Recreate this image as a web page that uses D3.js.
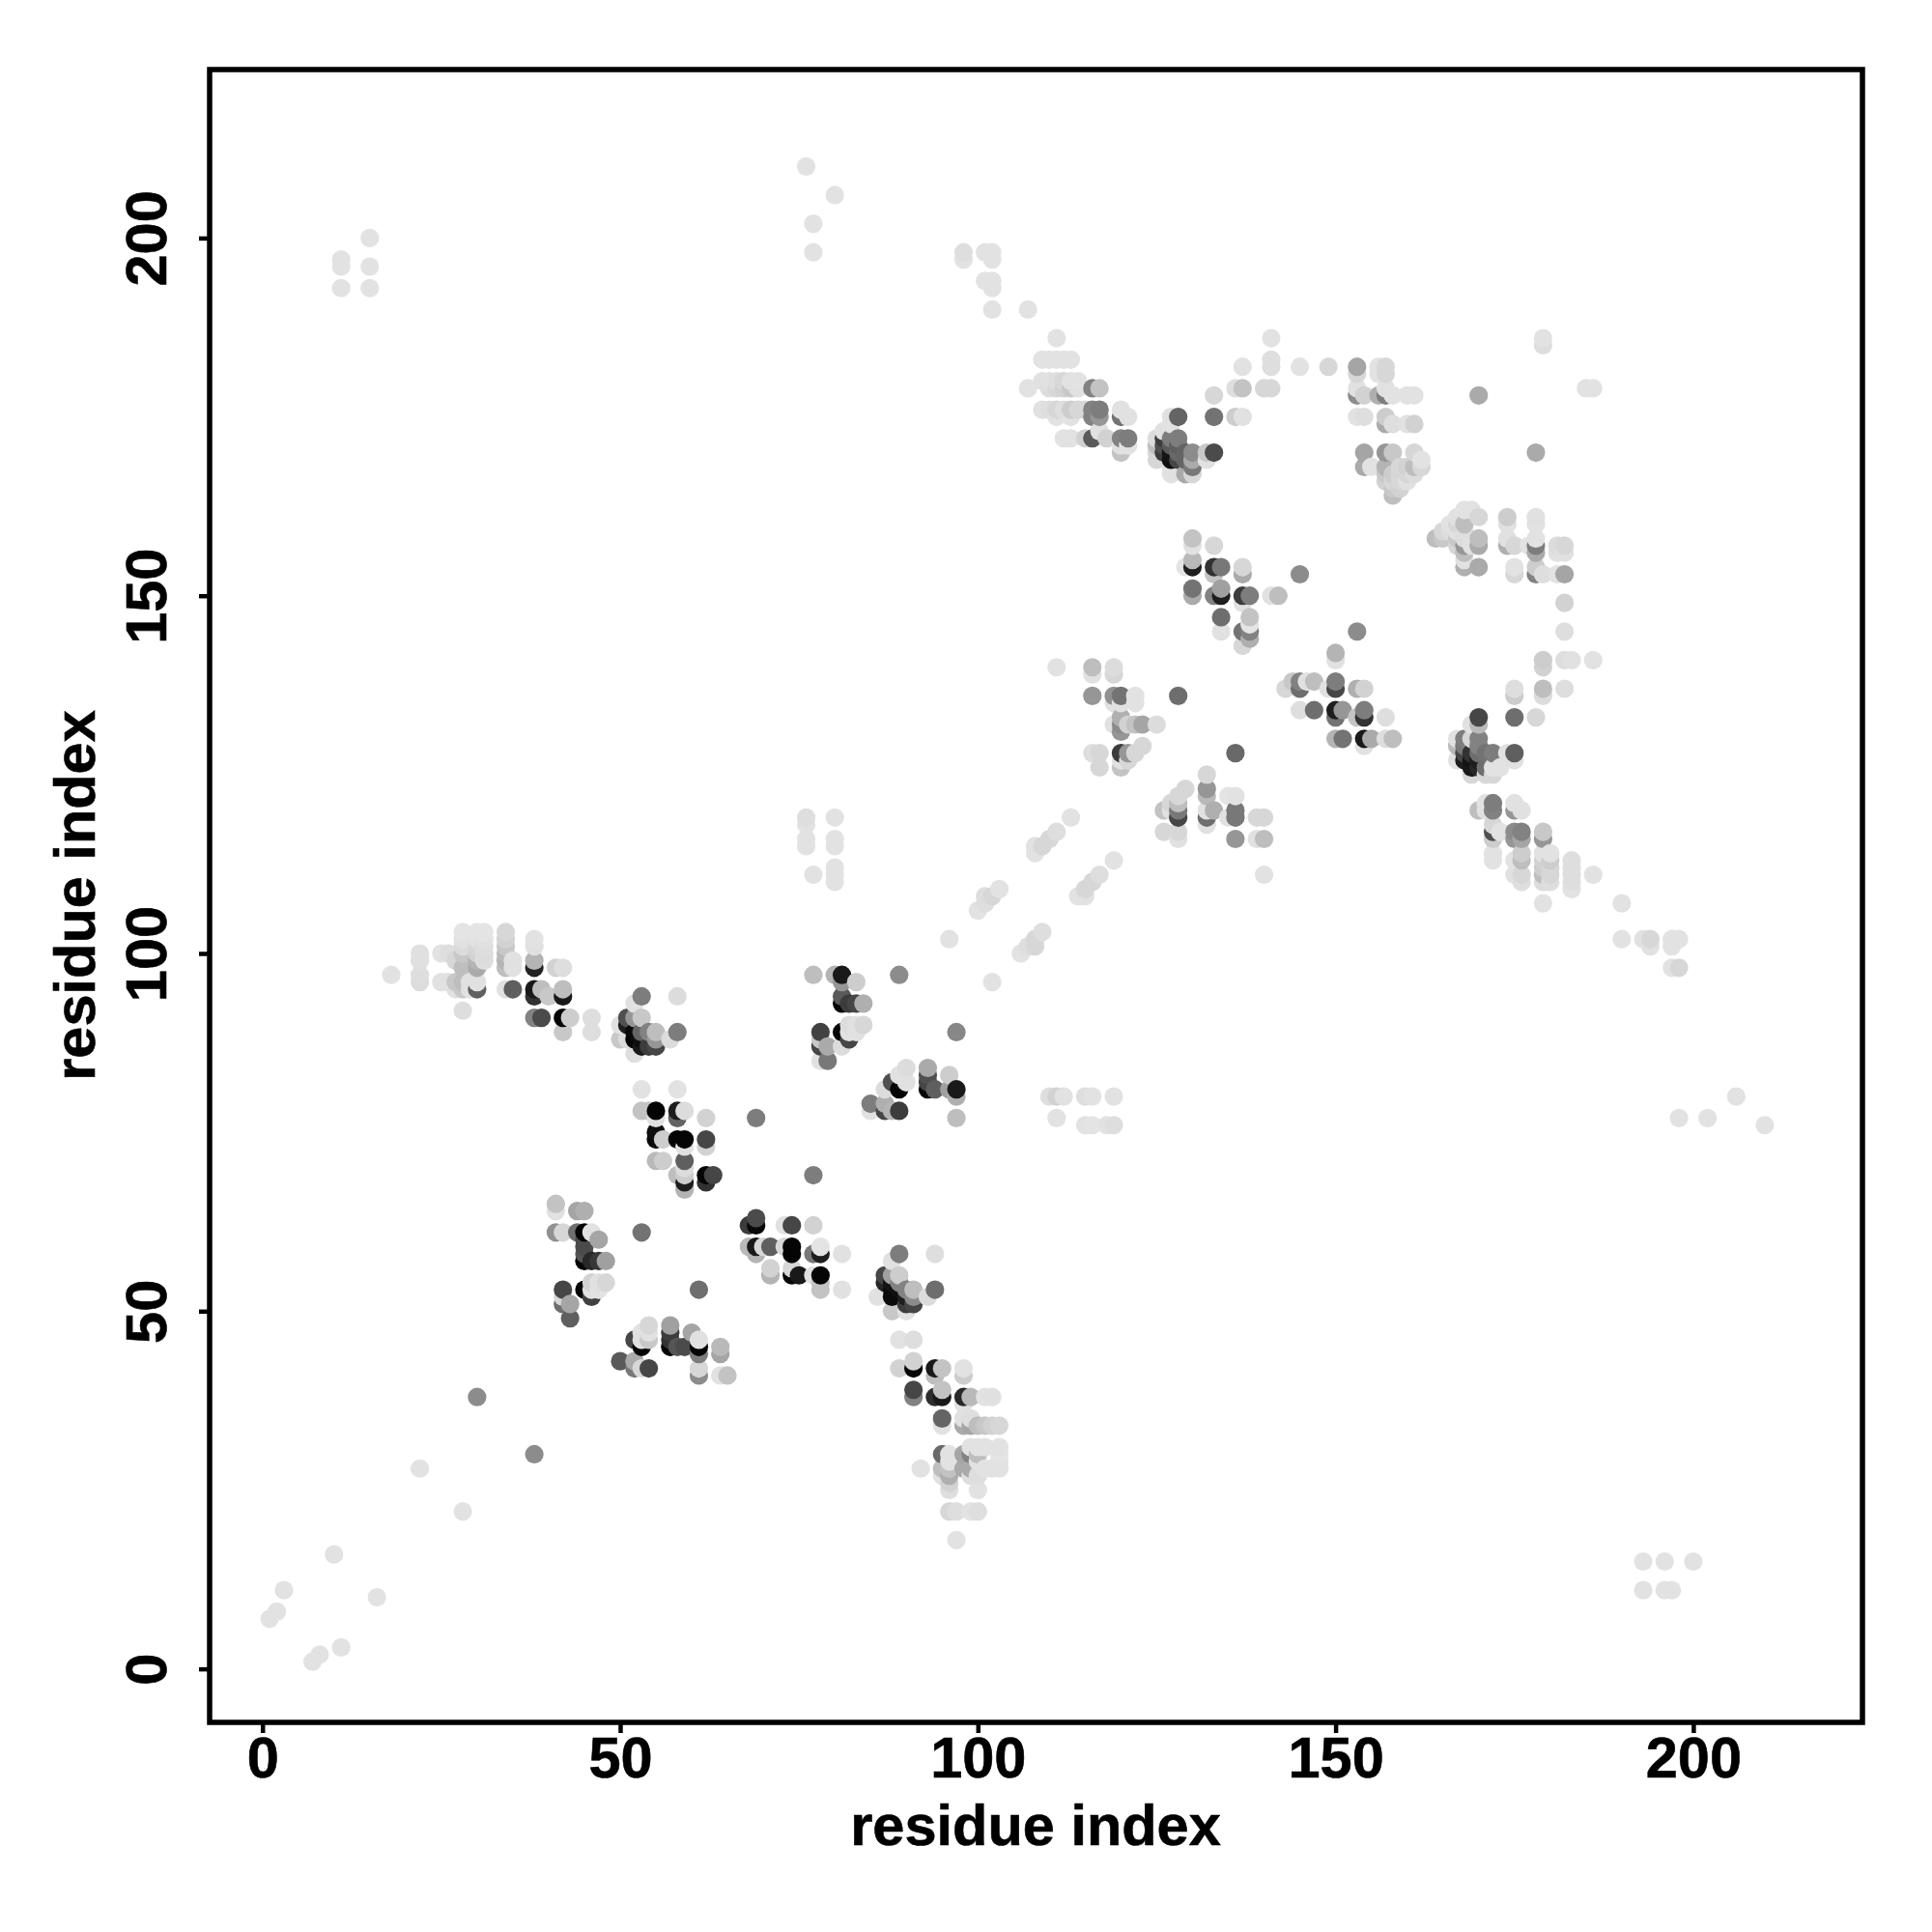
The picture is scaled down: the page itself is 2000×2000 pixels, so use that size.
<!DOCTYPE html>
<html><head><meta charset="utf-8">
<script src="https://cdn.jsdelivr.net/npm/d3@7/dist/d3.min.js"></script>
<style>html,body{margin:0;background:#fff}svg{display:block}text{font-family:"Liberation Sans",Arial,sans-serif;font-weight:700;fill:#000;stroke:#000;stroke-width:.6px}</style>
</head><body><svg id="c" width="2000" height="2000"></svg>
<script>
const tickValues=[0,50,100,150,200];
const axisTitle="residue index";
// each contact: [residue x, residue y, grey level]
const sparse=[[1,7,226],[2,8,226],[3,11,226],[7,1,226],[8,2,226],[11,3,226],[10,16,226],[16,10,226],[22,28,226],[28,22,226],[30,38,140],[38,30,140],
[11,193,226],[11,196,226],[11,197,226],[15,193,226],[15,196,226],[15,200,226],[76,210,226],[77,202,226],[77,198,226],[80,206,226],
[98,198,222],[98,197,226],[101,198,226],[102,198,226],[102,197,226],[101,194,226],[102,194,226],[102,193,226],[102,190,226],[107,190,226],
[193,15,226],[196,15,226],[200,15,226],[193,11,226],[196,11,226],[197,11,226],[198,77,226],[202,77,226],[206,80,226],[210,76,226],
[76,119,222],[76,118,226],[76,116,226],[76,115,226],[80,119,226],[80,116,226],[80,115,226],[77,111,226],[80,112,226],[80,111,226],[80,110,226],[96,102,226],[102,96,226],[111,140,226],
[53,61,115],[61,53,110],[69,77,125],[77,69,125],[89,97,140],[97,89,135],[128,136,110],[136,128,105],[145,153,140],[153,145,140],[170,178,170],[178,170,170]];
const clusterA=[[18,97,226],[22,100,224],[22,99,224],[22,97,222],[22,96,220],[25,100,226],[26,100,222],[27,99,215],[28,98,190],[28,103,228],[28,102,225],[28,101,220],[28,100,200],[25,96,225],[26,96,225],[27,96,200],[28,96,190],[27,95,225],[28,95,200],[29,95,225],[28,92,222],[29,96,225],
[30,103,228],[30,102,226],[30,101,215],[30,100,210],[30,99,180],[30,98,170],[31,103,228],[31,102,225],[31,101,222],[31,100,220],[31,99,222],[30,95,95],[30,96,225],
[34,103,215],[34,102,210],[34,101,200],[34,100,185],[34,99,180],[34,98,190],[35,99,225],[35,98,225],[34,95,225],[35,95,95],[38,102,226],[38,101,224],[38,99,180],[38,98,35],[38,95,25],[38,94,50],[39,95,190],[38,91,130],[39,91,75],[41,98,210],[42,98,222],[40,94,200],[42,95,190],[42,94,25],[42,91,5],[43,91,205],[42,89,200],[46,91,222],[46,89,222]];
const clusterB=[[53,94,125],[52,93,225],[58,94,220],[51,91,80],[53,91,200],[52,91,150],[50,90,225],[51,90,30],[52,89,10],[55,89,190],[58,89,125],[54,89,130],[57,88,220],[50,88,200],[51,88,220],[52,88,5],[55,88,150],[53,87,25],[54,87,60],[55,87,70],[52,86,222],[53,88,15],[53,89,100]];
const clusterC=[[53,81,226],[58,81,226],[53,78,195],[55,78,5],[54,78,195],[58,78,30],[59,78,220],[58,77,100],[62,77,210],[55,77,225],[55,75,15],[55,74,10],[56,74,205],[58,74,5],[59,74,5],[62,74,70],[62,73,210],[59,73,225],[55,71,185],[56,71,205],[59,71,95],[59,70,220],[58,69,190],[59,69,205],[59,68,30],[59,67,180],[62,69,5],[63,69,70],[62,68,50]];
const clusterD=[[68,62,60],[69,63,75],[69,62,10],[73,62,225],[74,62,70],[77,62,210],[68,59,185],[69,59,25],[69,58,180],[70,59,215],[71,59,95],[73,59,215],[74,59,5],[74,58,5],[77,58,120],[78,59,228],[78,58,30],[81,58,225],[71,56,210],[71,55,180],[74,56,215],[74,55,5],[75,55,25],[77,55,225],[78,55,5],[78,54,195],[78,53,195],[81,53,225]];
const clusterE=[[89,58,125],[94,58,222],[88,57,225],[87,55,70],[89,55,205],[88,55,160],[87,54,40],[88,54,20],[89,54,130],[91,53,190],[90,53,130],[94,53,110],[88,53,10],[89,53,15],[93,52,220],[86,52,225],[88,52,10],[90,52,30],[91,52,140],[91,51,70],[90,51,60],[88,50,200],[90,50,225]];
const clusterF=[[89,46,226],[91,46,222],[89,42,210],[91,43,210],[91,42,5],[94,42,25],[95,42,195],[94,41,190],[98,42,226],[98,41,205],[91,39,70],[91,38,130],[94,38,45],[95,39,195],[95,38,25],[98,38,40],[99,38,185],[101,38,226],[102,38,224],[98,37,225],[95,35,100],[95,34,226],[98,35,225],[99,35,222],[98,34,170],[99,34,165],[100,34,190],[101,34,200],[102,34,210],[103,34,215],
[95,30,105],[96,30,226],[98,30,165],[99,31,226],[99,30,130],[100,31,226],[100,30,190],[101,31,226],[103,31,226],[103,30,228],[92,28,226],[95,28,190],[95,27,225],[96,29,226],[96,28,195],[96,27,175],[96,26,210],[96,25,222],[98,28,170],[99,28,170],[99,27,222],[100,29,225],[100,27,222],[100,25,226],[101,28,226],[102,28,226],[103,28,226],[103,29,226],[96,22,215],[97,22,222],[99,22,226],[100,22,222],[97,18,226]];
const clusterG=[[41,65,195],[41,64,225],[44,64,165],[45,64,175],[41,61,145],[42,61,215],[44,61,110],[45,61,5],[46,61,225],[47,60,165],[45,60,75],[45,59,75],[45,58,85],[45,57,5],[46,57,40],[47,57,55],[48,57,160],[42,53,70],[45,53,5],[46,54,210],[47,54,225],[48,54,215],[46,53,225],[46,52,65],[47,53,226],[42,52,215],[42,51,110],[43,51,165],[43,49,95]];
const clusterH=[[54,48,215],[53,47,225],[54,47,225],[54,46,200],[52,46,70],[53,46,225],[53,45,5],[57,48,160],[57,47,60],[57,46,50],[57,45,5],[58,45,85],[60,47,165],[59,45,75],[61,46,225],[61,45,5],[61,44,125],[64,45,185],[64,44,165],[50,43,90],[52,43,170],[52,42,120],[53,42,215],[54,42,70],[61,42,215],[61,41,140],[64,41,225],[65,41,195]];
const clusterI=[[77,97,190],[80,97,180],[81,97,25],[83,96,205],[81,96,150],[81,94,90],[81,93,5],[82,93,60],[83,93,70],[84,93,175],[78,89,65],[81,89,5],[82,90,220],[83,90,225],[84,90,215],[82,89,225],[82,88,70],[83,89,225],[78,87,70],[79,87,170],[78,88,200],[81,87,220],[78,85,225],[79,85,120]];
const clusterJ=[[90,84,220],[89,83,225],[90,82,225],[88,82,80],[89,81,5],[87,81,220],[85,79,125],[85,78,225],[87,79,175],[87,78,70],[88,78,180],[89,78,60],[93,84,170],[93,83,80],[93,82,70],[93,81,5],[94,81,95],[96,83,205],[96,81,160],[97,81,25],[97,80,175],[97,77,190]];
const diagonal=[[110,80,222],[111,80,210],[112,80,226],[111,77,226],[115,80,222],[116,80,226],[119,80,226],[115,76,226],[116,76,228],[118,76,226],[119,76,222],[106,100,226],[107,101,222],[108,101,215],[108,102,215],[109,103,222],[100,106,226],[101,107,222],[101,108,222],[102,108,215],[103,109,226],[114,108,226],[115,108,226],[115,109,215],[116,110,215],[117,111,222],[119,113,226],[108,114,226],[108,115,226],[109,115,215],[110,116,215],[111,117,222],[113,119,226]];
const clusterK=[[130,158,195],[130,157,225],[133,157,215],[129,154,228],[130,155,185],[130,154,30],[133,154,50],[134,154,120],[133,153,195],[137,154,215],[137,153,170],[130,151,115],[130,150,170],[133,150,130],[134,151,160],[134,150,30],[137,150,60],[138,150,125],[137,149,225],[141,150,225],[142,150,190],[134,147,110],[134,145,225],[138,147,195],[138,146,228],[137,145,115],[138,145,130],[138,144,175],[137,143,215]];
const clusterL=[[150,142,180],[150,141,225],[143,137,215],[144,138,200],[145,138,130],[145,137,110],[146,138,225],[147,138,190],[150,138,125],[150,137,70],[149,137,225],[153,137,175],[154,137,210],[145,134,222],[147,134,110],[150,134,30],[151,134,150],[150,133,115],[153,133,195],[154,134,125],[154,133,50],[157,133,222],[150,130,180],[151,130,115],[154,130,25],[155,130,170],[154,129,225],[157,130,222],[158,130,190]];
const clusterM=[[116,140,190],[116,139,225],[119,140,220],[119,139,215],[116,136,150],[119,136,145],[120,136,115],[122,136,226],[122,135,226],[119,135,225],[120,135,225],[120,133,175],[120,132,140],[119,132,225],[121,132,210],[122,132,195],[123,132,165],[125,132,220],[120,131,150],[116,128,222],[117,128,215],[120,128,60],[121,128,150],[122,128,215],[123,129,215],[117,126,215],[120,126,195],[120,127,225],[121,127,215]];
const clusterN=[[132,125,215],[129,123,215],[128,122,215],[127,121,215],[126,120,195],[127,120,225],[128,121,190],[128,120,120],[128,119,70],[132,123,150],[132,122,185],[132,120,225],[132,119,110],[133,120,175],[132,118,225],[135,122,228],[136,122,226],[136,120,120],[136,119,120],[135,119,225],[139,119,215],[140,119,215],[126,117,215],[128,117,215],[128,116,225],[136,116,150],[139,116,225],[140,116,190],[140,111,226]];
const clusterO=[[111,186,226],[109,183,226],[110,183,226],[111,183,226],[112,183,226],[113,183,226],[107,179,226],[109,180,225],[110,180,225],[111,180,222],[112,180,215],[113,180,226],[114,180,226],[110,179,220],[111,179,215],[112,179,210],[113,179,200],[114,179,225],[116,179,130],[117,179,195],[109,176,225],[110,176,222],[111,176,215],[112,176,222],[113,176,205],[114,176,215],[115,176,215],[116,176,130],[117,176,125],[116,175,130],[117,175,150],[111,175,226],[113,175,226],[120,176,225],[121,175,225],[120,175,115],[112,172,226],[113,172,226],[115,172,210],[116,172,90],[117,173,225],[118,172,210],[120,172,130],[121,172,125],[120,171,225],[120,170,195],[121,171,226]];
const clusterP=[[128,175,100],[127,175,225],[133,175,115],[133,178,215],[136,179,222],[137,179,195],[137,182,226],[141,186,226],[141,183,222],[141,182,222],[140,179,215],[141,179,215],[145,182,226],[149,182,215],[136,175,205],[137,175,225],[125,172,220],[126,173,225],[127,174,226],[125,171,190],[125,170,215],[125,169,215],[126,172,60],[127,172,125],[128,172,125],[126,171,80],[127,171,90],[128,171,95],[127,170,20],[127,169,15],[128,170,105],[128,169,70],[126,170,60],[127,168,225],[127,167,225],[130,170,140],[130,169,170],[129,169,100],[129,167,170],[130,168,120],[130,167,215],[129,170,100],[132,170,200],[133,170,75],[132,169,225]];
const clusterQ=[[153,182,165],[153,181,215],[156,182,226],[157,182,215],[157,181,215],[156,181,226],[179,186,226],[179,185,222],[153,179,225],[153,178,140],[154,178,210],[156,178,175],[157,178,125],[158,178,226],[160,178,226],[161,178,226],[157,179,225],[185,179,226],[186,179,226],[153,175,226],[154,175,222],[157,175,205],[157,174,170],[158,174,222],[160,174,225],[161,174,210],[154,170,165],[157,170,150],[158,170,200],[161,170,215],[154,168,170],[155,168,226],[157,168,180],[161,168,190],[162,169,226],[162,168,215],[160,168,210],[159,168,215],[157,167,200],[158,167,205],[159,167,215],[160,167,215],[161,167,220],[157,166,210],[158,166,215],[159,166,215],[160,166,225],[158,165,200],[159,165,210],[158,164,190]];
const clusterR=[[164,158,190],[165,158,200],[165,159,215],[166,159,222],[166,160,226],[167,161,225],[168,162,226],[169,162,226],[167,160,215],[168,160,190],[170,161,215],[167,159,225],[168,159,222],[167,158,200],[168,158,220],[167,157,215],[168,157,150],[168,156,190],[169,157,225],[170,158,190],[170,157,170],[168,155,225],[168,154,175],[170,154,170],[174,161,205],[174,160,225],[174,158,225],[174,157,175],[175,157,215],[178,161,225],[178,160,226],[178,158,226],[178,157,125],[178,156,170],[177,157,226],[175,154,226],[175,153,215],[178,154,205],[178,153,130],[179,153,222],[181,153,226],[181,157,220],[182,157,215],[181,156,225],[182,156,225],[182,153,165],[182,149,210],[182,145,222],[179,141,205],[179,140,210],[182,141,222],[183,141,225],[186,141,226],[175,137,222],[175,136,205],[179,137,190],[179,136,220],[182,137,222],[175,133,110],[178,133,215],[170,133,70],[170,132,185],[169,132,225]];
const clusterS=[[167,130,225],[167,129,185],[168,130,125],[168,129,120],[169,130,215],[170,130,130],[170,129,130],[167,127,225],[168,128,70],[169,128,50],[168,127,30],[169,127,20],[170,128,110],[170,127,30],[169,126,25],[170,126,40],[169,125,215],[171,128,115],[172,128,125],[171,126,110],[172,126,226],[173,126,226],[172,125,215],[171,125,215],[174,128,225],[175,128,95],[175,127,225]];
const clusterT=[[170,120,190],[171,121,226],[171,120,225],[172,121,125],[172,120,130],[175,121,225],[175,120,150],[176,120,225],[172,118,215],[172,117,80],[173,117,226],[172,116,205],[175,117,140],[175,116,150],[176,117,130],[176,116,165],[179,117,200],[179,116,150],[172,114,226],[172,113,226],[175,113,226],[175,111,225],[176,114,205],[176,113,190],[176,111,215],[176,110,222],[179,114,226],[179,113,210],[179,112,205],[179,111,190],[179,110,220],[180,114,226],[180,113,205],[180,112,215],[180,111,215],[180,110,222],[183,113,222],[183,112,222],[183,111,222],[183,110,222],[183,109,226],[186,111,226],[179,107,226],[190,107,226],[190,102,226],[193,102,226],[194,102,215],[194,101,225],[197,102,226],[198,102,226],[197,101,226],[197,98,226],[198,98,215]];

const contacts=[sparse,clusterA,clusterB,clusterC,clusterD,clusterE,clusterF,clusterG,clusterH,clusterI,clusterJ,diagonal,clusterK,clusterL,clusterM,clusterN,clusterO,clusterP,clusterQ,clusterR,clusterS,clusterT].flat()
  .sort((a,b)=>d3.ascending(a[0],b[0])||d3.ascending(a[1],b[1]));

const box={l:217,r:1928,t:72,b:1783};
const x=d3.scaleLinear().domain([0,200]).range([271.7,1752.9]);
const y=d3.scaleLinear().domain([0,200]).range([1727.6,246.4]);
const svg=d3.select("#c");
svg.append("g").selectAll("circle").data(contacts).join("circle")
  .attr("cx",d=>x(d[0])).attr("cy",d=>y(d[1])).attr("r",9.6)
  .attr("fill",d=>d3.rgb(d[2],d[2],d[2]));
svg.append("rect").attr("x",box.l).attr("y",box.t).attr("width",box.r-box.l).attr("height",box.b-box.t)
  .attr("fill","none").attr("stroke","#000").attr("stroke-width",5.5);
const fs=59.5;
const gx=svg.append("g").attr("transform",`translate(0,${box.b})`)
  .call(d3.axisBottom(x).tickValues(tickValues).tickSize(11).tickPadding(0).tickFormat(d3.format("d")));
const gy=svg.append("g").attr("transform",`translate(${box.l},0)`)
  .call(d3.axisLeft(y).tickValues(tickValues).tickSize(11).tickPadding(0).tickFormat(d3.format("d")));
[gx,gy].forEach(g=>{g.select(".domain").remove();g.selectAll("line").attr("stroke","#000").attr("stroke-width",4.5);
  g.selectAll("text").attr("font-size",fs).attr("dy",null);});
gx.selectAll("text").attr("text-anchor","middle").attr("y",57);
gy.selectAll("text").attr("x",null).attr("y",null).attr("text-anchor","middle")
  .attr("transform",d=>`translate(-45,0) rotate(-90)`);
svg.append("text").attr("x",1072).attr("y",1910).attr("text-anchor","middle").attr("font-size",fs).text(axisTitle);
svg.append("text").attr("transform","translate(98,927) rotate(-90)").attr("text-anchor","middle").attr("font-size",fs).text(axisTitle);
</script></body></html>
